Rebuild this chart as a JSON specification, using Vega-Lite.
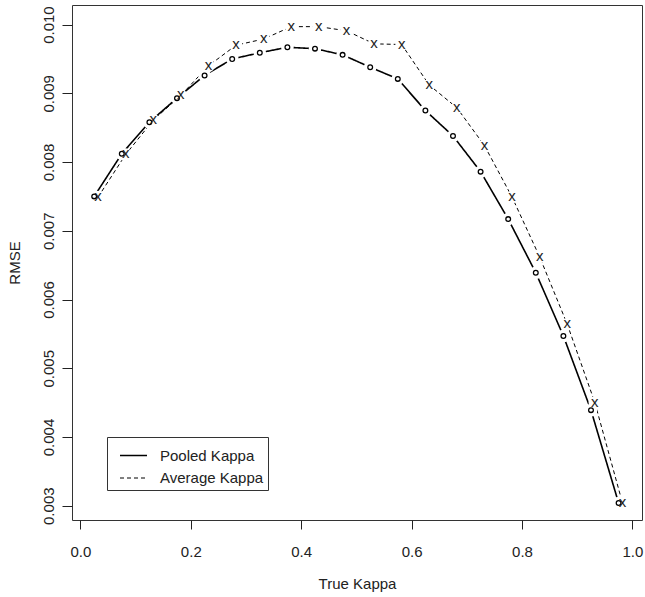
{
  "$schema": "https://vega.github.io/schema/vega-lite/v6.json",
  "width": 570,
  "height": 515,
  "autosize": "none",
  "padding": {"left": 72, "top": 5, "right": 3, "bottom": 77},
  "background": "white",
  "data": {"values": [
    {"series": "Pooled Kappa", "kappa": 0.025, "rmse": 0.00750},
    {"series": "Pooled Kappa", "kappa": 0.075, "rmse": 0.00812},
    {"series": "Pooled Kappa", "kappa": 0.125, "rmse": 0.00858},
    {"series": "Pooled Kappa", "kappa": 0.175, "rmse": 0.00893},
    {"series": "Pooled Kappa", "kappa": 0.225, "rmse": 0.00926},
    {"series": "Pooled Kappa", "kappa": 0.275, "rmse": 0.00950},
    {"series": "Pooled Kappa", "kappa": 0.325, "rmse": 0.00959},
    {"series": "Pooled Kappa", "kappa": 0.375, "rmse": 0.00967},
    {"series": "Pooled Kappa", "kappa": 0.425, "rmse": 0.00965},
    {"series": "Pooled Kappa", "kappa": 0.475, "rmse": 0.00956},
    {"series": "Pooled Kappa", "kappa": 0.525, "rmse": 0.00938},
    {"series": "Pooled Kappa", "kappa": 0.575, "rmse": 0.00921},
    {"series": "Pooled Kappa", "kappa": 0.625, "rmse": 0.00875},
    {"series": "Pooled Kappa", "kappa": 0.675, "rmse": 0.00838},
    {"series": "Pooled Kappa", "kappa": 0.725, "rmse": 0.00786},
    {"series": "Pooled Kappa", "kappa": 0.775, "rmse": 0.00717},
    {"series": "Pooled Kappa", "kappa": 0.825, "rmse": 0.00639},
    {"series": "Pooled Kappa", "kappa": 0.875, "rmse": 0.00547},
    {"series": "Pooled Kappa", "kappa": 0.925, "rmse": 0.00439},
    {"series": "Pooled Kappa", "kappa": 0.975, "rmse": 0.00304},
    {"series": "Average Kappa", "kappa": 0.032, "rmse": 0.00749},
    {"series": "Average Kappa", "kappa": 0.082, "rmse": 0.00811},
    {"series": "Average Kappa", "kappa": 0.132, "rmse": 0.00861},
    {"series": "Average Kappa", "kappa": 0.182, "rmse": 0.00897},
    {"series": "Average Kappa", "kappa": 0.232, "rmse": 0.00940},
    {"series": "Average Kappa", "kappa": 0.282, "rmse": 0.00970},
    {"series": "Average Kappa", "kappa": 0.332, "rmse": 0.00979},
    {"series": "Average Kappa", "kappa": 0.382, "rmse": 0.00997},
    {"series": "Average Kappa", "kappa": 0.432, "rmse": 0.00997},
    {"series": "Average Kappa", "kappa": 0.482, "rmse": 0.00991},
    {"series": "Average Kappa", "kappa": 0.532, "rmse": 0.00972},
    {"series": "Average Kappa", "kappa": 0.582, "rmse": 0.00971},
    {"series": "Average Kappa", "kappa": 0.632, "rmse": 0.00912},
    {"series": "Average Kappa", "kappa": 0.682, "rmse": 0.00879},
    {"series": "Average Kappa", "kappa": 0.732, "rmse": 0.00824},
    {"series": "Average Kappa", "kappa": 0.782, "rmse": 0.00749},
    {"series": "Average Kappa", "kappa": 0.832, "rmse": 0.00662},
    {"series": "Average Kappa", "kappa": 0.882, "rmse": 0.00564},
    {"series": "Average Kappa", "kappa": 0.932, "rmse": 0.00450},
    {"series": "Average Kappa", "kappa": 0.982, "rmse": 0.00304}
  ]},
  "encoding": {
    "x": {
      "field": "kappa", "type": "quantitative",
      "scale": {"domain": [-0.0152, 1.0174], "nice": false, "zero": false},
      "axis": {
        "title": "True Kappa",
        "values": [0, 0.2, 0.4, 0.6, 0.8, 1.0],
        "format": ".1f",
        "tickSize": 9,
        "labelPadding": 15,
        "labelBaseline": "top",
        "labelAlign": "center",
        "titleX": 285,
        "titleY": 68,
        "titleBaseline": "alphabetic",
        "titleAlign": "center"
      }
    },
    "y": {
      "field": "rmse", "type": "quantitative",
      "scale": {"domain": [0.002792, 0.010285], "nice": false, "zero": false},
      "axis": {
        "title": "RMSE",
        "values": [0.003, 0.004, 0.005, 0.006, 0.007, 0.008, 0.009, 0.010],
        "format": ".3f",
        "tickSize": 10,
        "labelAngle": 270,
        "labelAlign": "center",
        "labelBaseline": "alphabetic",
        "labelPadding": 9,
        "titleAngle": 270,
        "titleX": -53,
        "titleY": 257.5,
        "titleAlign": "center",
        "titleBaseline": "alphabetic"
      }
    }
  },
  "layer": [
    {
      "mark": {"type": "line", "color": "black"},
      "encoding": {
        "detail": {"field": "series"},
        "strokeDash": {
          "field": "series", "type": "nominal",
          "scale": {"domain": ["Pooled Kappa", "Average Kappa"], "range": [[1, 0], [4, 3]]},
          "legend": {"title": null}
        },
        "strokeWidth": {
          "field": "series", "type": "nominal",
          "scale": {"domain": ["Pooled Kappa", "Average Kappa"], "range": [1.6, 1]},
          "legend": {"title": null}
        }
      }
    },
    {
      "mark": {"type": "point", "shape": "circle", "filled": true, "fill": "white", "strokeWidth": 0, "opacity": 1, "size": 160}
    },
    {
      "transform": [{"filter": "datum.series == 'Pooled Kappa'"}],
      "mark": {"type": "point", "shape": "circle", "filled": false, "stroke": "black", "strokeWidth": 1.3, "opacity": 1, "size": 22}
    },
    {
      "transform": [{"filter": "datum.series == 'Average Kappa'"}],
      "mark": {"type": "text", "text": "x", "font": "Liberation Sans", "fontSize": 15, "fill": "#222", "align": "center", "baseline": "alphabetic", "dy": 4}
    }
  ],
  "config": {
    "font": "Liberation Sans",
    "view": {"stroke": "#333", "strokeWidth": 1},
    "axis": {
      "domain": false,
      "grid": false,
      "tickColor": "#222",
      "tickWidth": 1,
      "labelFont": "Liberation Sans",
      "labelFontSize": 15,
      "labelColor": "#222",
      "titleFont": "Liberation Sans",
      "titleFontSize": 15,
      "titleFontWeight": "normal",
      "titleColor": "#222",
      "labelOverlap": false,
      "labelFlush": false
    },
    "legend": {
      "orient": "none",
      "legendX": 35,
      "legendY": 432,
      "strokeColor": "#333",
      "padding": 4,
      "symbolType": "stroke",
      "symbolSize": 729,
      "symbolOffset": 8,
      "symbolStrokeColor": "black",
      "labelOffset": 12,
      "rowPadding": -10,
      "labelFont": "Liberation Sans",
      "labelFontSize": 15,
      "labelColor": "#222",
      "labelLimit": 300
    }
  }
}
